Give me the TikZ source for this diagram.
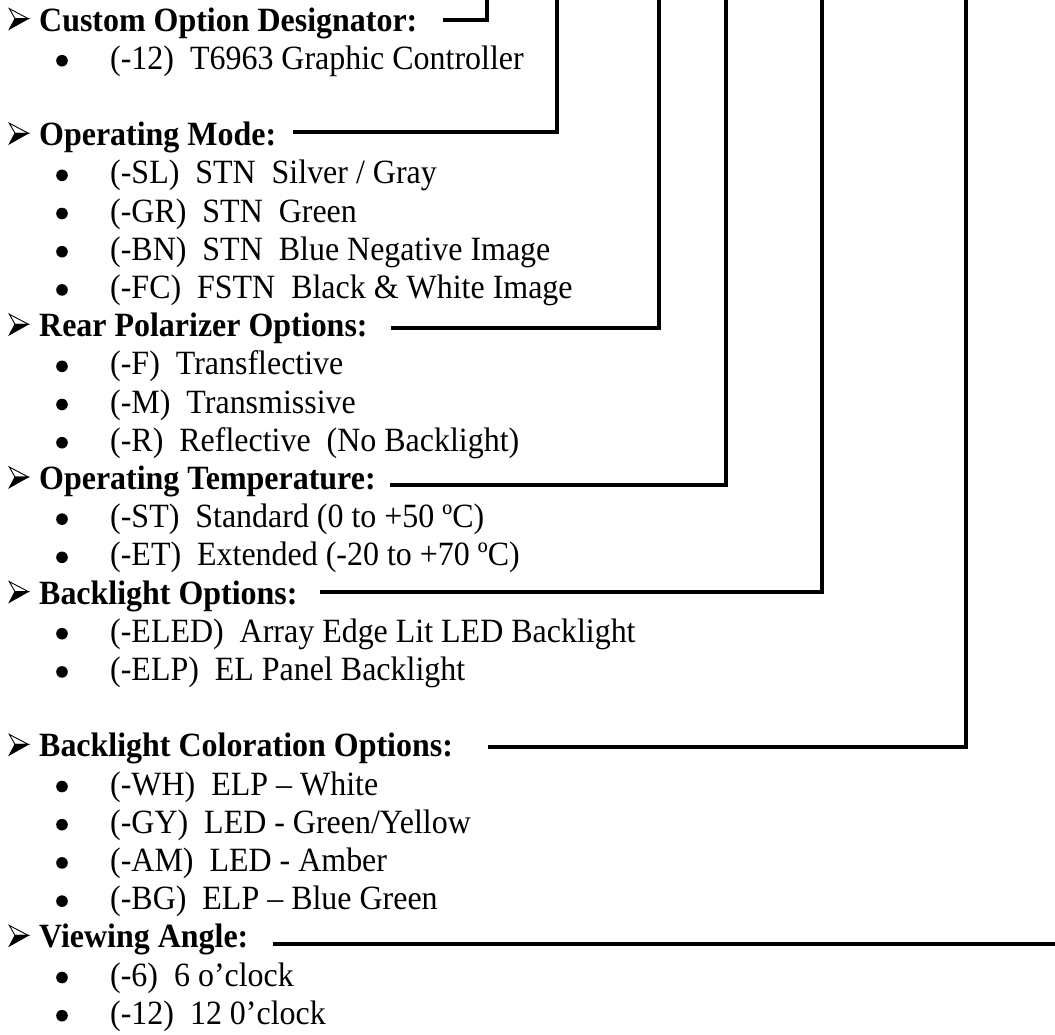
\documentclass[tikz,border=0pt]{standalone}
\usepackage{fontspec}
\setmainfont{Liberation Serif}[FakeStretch=0.94]
\begin{document}
\begin{tikzpicture}[x=1pt,y=-1pt,
  head/.style={anchor=base west, inner sep=0pt, font=\fontsize{34}{39}\selectfont\bfseries},
  item/.style={anchor=base west, inner sep=0pt, font=\fontsize{34}{39}\selectfont},
  conn/.style={line width=3.3pt, line cap=butt, line join=miter},
  harr/.pic={
    \filldraw[fill=white, draw=black, line width=0.9pt, line join=miter] (0,-22.4) -- (19,-12.4) -- (5.7,-12.4) -- cycle;
    \filldraw[fill=black, draw=black, line width=0.9pt, line join=miter] (5.7,-12.4) -- (19,-12.4) -- (0,-1.7) -- cycle;
  },
  bul/.pic={\fill[black] (0,-8.5) circle (5.8);}
]
\useasboundingbox (0,0) rectangle (1055,1034);

% headings
\foreach \nm/\yy/\tx in {
  h1/31.0/{Custom Option Designator:},
  h2/145.6/{Operating Mode:},
  h3/336.6/{Rear Polarizer Options:},
  h4/489.4/{Operating Temperature:},
  h5/604.0/{Backlight Options:},
  h6/756.8/{Backlight Coloration Options:},
  h7/947.8/{Viewing Angle:}}{
  \pic at (9.3,\yy) {harr};
  \node[head] (\nm) at (39,\yy) {\tx};
}

% items
\foreach \nm/\yy/\tx in {
  i1/69.2/{(-12)\ \ T6963 Graphic Controller},
  i2/183.8/{(-SL)\ \ STN\ \ Silver / Gray},
  i3/222.0/{(-GR)\ \ STN\ \ Green},
  i4/260.2/{(-BN)\ \ STN\ \ Blue Negative Image},
  i5/298.4/{(-FC)\ \ FSTN\ \ Black \& White Image},
  i6/374.8/{(-F)\ \ Transflective},
  i7/413.0/{(-M)\ \ Transmissive},
  i8/451.2/{(-R)\ \ Reflective\ \ (No Backlight)},
  i9/527.6/{(-ST)\ \ Standard (0 to +50 ºC)},
  i10/565.8/{(-ET)\ \ Extended (-20 to +70 ºC)},
  i11/642.2/{(-ELED)\ \ Array Edge Lit LED Backlight},
  i12/680.4/{(-ELP)\ \ EL Panel Backlight},
  i13/795.0/{(-WH)\ \ ELP – White},
  i14/833.2/{(-GY)\ \ LED - Green/Yellow},
  i15/871.4/{(-AM)\ \ LED - Amber},
  i16/909.6/{(-BG)\ \ ELP – Blue Green},
  i17/986.0/{(-6)\ \ 6 o’clock},
  i18/1024.2/{(-12)\ \ 12 0’clock}}{
  \pic at (62,\yy) {bul};
  \node[item] (\nm) at (110,\yy) {\tx};
}

% connector levels and upper ends
\coordinate (y1) at (0,20);  \coordinate (t1) at (487,0);
\coordinate (y2) at (0,132); \coordinate (t2) at (557,0);
\coordinate (y3) at (0,328); \coordinate (t3) at (659,0);
\coordinate (y4) at (0,485); \coordinate (t4) at (726,0);
\coordinate (y5) at (0,592); \coordinate (t5) at (822,0);
\coordinate (y6) at (0,747); \coordinate (t6) at (966,0);
\coordinate (y7) at (0,944); \coordinate (t7) at (1056,944);

\path (h1.east) ++(25,0) coordinate (e1);
\path (h2.east) ++(17,0) coordinate (e2);
\path (h3.east) ++(23,0) coordinate (e3);
\path (h4.east) ++(14,0) coordinate (e4);
\path (h5.east) ++(22,0) coordinate (e5);
\path (h6.east) ++(35,0) coordinate (e6);
\path (h7.east) ++(24,0) coordinate (e7);

\draw[conn] (e1 |- y1) -| (t1);
\draw[conn] (e2 |- y2) -| (t2);
\draw[conn] (e3 |- y3) -| (t3);
\draw[conn] (e4 |- y4) -| (t4);
\draw[conn] (e5 |- y5) -| (t5);
\draw[conn] (e6 |- y6) -| (t6);
\draw[conn] (e7 |- y7) -- (t7);
\end{tikzpicture}
\end{document}
